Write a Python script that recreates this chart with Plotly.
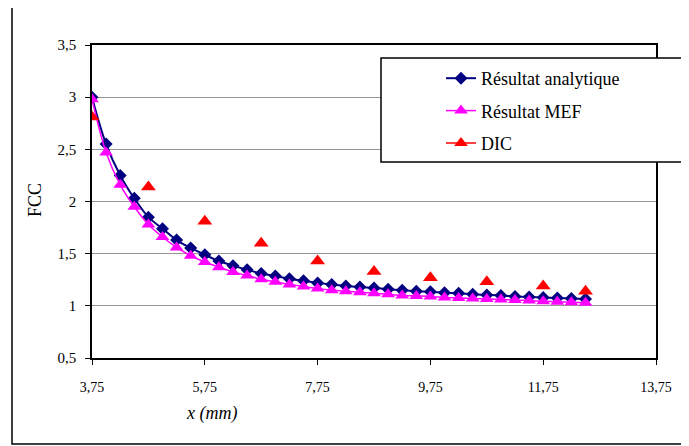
import plotly.graph_objects as go

# ---- data ----
x_model = [3.75, 4.00, 4.25, 4.50, 4.75, 5.00, 5.25, 5.50, 5.75, 6.00, 6.25, 6.50,
           6.75, 7.00, 7.25, 7.50, 7.75, 8.00, 8.25, 8.50, 8.75, 9.00, 9.25, 9.50,
           9.75, 10.00, 10.25, 10.50, 10.75, 11.00, 11.25, 11.50, 11.75, 12.00, 12.25, 12.50]
fcc_analytique = [3.00, 2.55, 2.25, 2.03, 1.85, 1.74, 1.63, 1.555, 1.49, 1.43, 1.385, 1.345,
                  1.31, 1.285, 1.26, 1.24, 1.22, 1.205, 1.19, 1.18, 1.17, 1.16, 1.15, 1.14,
                  1.135, 1.125, 1.12, 1.11, 1.105, 1.10, 1.09, 1.085, 1.08, 1.075, 1.07, 1.065]
fcc_mef = [2.98, 2.47, 2.16, 1.95, 1.78, 1.66, 1.56, 1.48, 1.42, 1.37, 1.325, 1.29,
           1.255, 1.23, 1.205, 1.185, 1.165, 1.15, 1.14, 1.13, 1.12, 1.11, 1.10, 1.095,
           1.09, 1.08, 1.075, 1.07, 1.065, 1.06, 1.055, 1.05, 1.045, 1.04, 1.035, 1.03]
x_dic = [3.75, 4.75, 5.75, 6.75, 7.75, 8.75, 9.75, 10.75, 11.75, 12.50]
fcc_dic = [2.81, 2.14, 1.81, 1.60, 1.43, 1.33, 1.27, 1.23, 1.19, 1.14]

x_tickvals = [3.75, 5.75, 7.75, 9.75, 11.75, 13.75]
x_ticktext = ["3,75", "5,75", "7,75", "9,75", "11,75", "13,75"]
y_tickvals = [0.5, 1.0, 1.5, 2.0, 2.5, 3.0, 3.5]
y_ticktext = ["0,5", "1", "1,5", "2", "2,5", "3", "3,5"]

names = ["Résultat analytique", "Résultat MEF", "DIC"]

# ---- layout helpers (screen pixel -> paper); page body has an 8px margin ----
OFF = 8
W, H = 689 - OFF, 446 - OFF
L, R, T, B = 92 - OFF, 656 - OFF, 45 - OFF, 358 - OFF
pw, ph = R - L, B - T
def px(x):
    return (x - OFF - L) / pw
def py(y):
    return (B - (y - OFF)) / ph

FONT = "Liberation Serif"

fig = go.Figure()
fig.add_trace(go.Scatter(
    x=x_model, y=fcc_analytique, name=names[0], mode="lines+markers",
    line=dict(color="#000080", width=2, shape="spline"),
    marker=dict(symbol="diamond", size=10, color="#000080"),
    legendgroup="a"))
fig.add_trace(go.Scatter(
    x=x_model, y=fcc_mef, name=names[1], mode="lines+markers",
    line=dict(color="#FF00FF", width=1.5, shape="spline"),
    marker=dict(symbol="triangle-up", size=12, color="#FF00FF"),
    legendgroup="b"))
fig.add_trace(go.Scatter(
    x=x_dic, y=fcc_dic, name=names[2], mode="markers",
    marker=dict(symbol="triangle-up", size=13, color="#FF0000"),
    showlegend=False, legendgroup="c"))
fig.add_trace(go.Scatter(
    x=[None], y=[None], name=names[2], mode="lines+markers",
    line=dict(color="#FF0000", width=1.5),
    marker=dict(symbol="triangle-up", size=12, color="#FF0000"),
    legendgroup="c"))

fig.update_layout(
    width=W, height=H,
    margin=dict(l=L, r=W - R, t=T, b=H - B),
    paper_bgcolor="white", plot_bgcolor="white",
    font=dict(family=FONT, size=14, color="black"),
    showlegend=True,
    legend=dict(x=px(441), y=py(60), xanchor="left", yanchor="top",
                bgcolor="rgba(0,0,0,0)", borderwidth=0,
                font=dict(family=FONT, size=18, color="black"),
                tracegroupgap=6),
    xaxis=dict(range=[3.75, 13.75], tickvals=x_tickvals, ticktext=x_ticktext,
               showgrid=False, zeroline=False, showline=True, linecolor="black",
               linewidth=1.5, mirror=True, ticks="outside", ticklen=5,
               tickcolor="black", tickwidth=1, ticklabelstandoff=10,
               tickfont=dict(family=FONT, size=14)),
    yaxis=dict(range=[0.5, 3.5], tickvals=y_tickvals, ticktext=y_ticktext,
               showgrid=True, gridcolor="#969696", gridwidth=1,
               zeroline=False, showline=True, linecolor="black",
               linewidth=1.5, mirror=True, ticks="outside", ticklen=5,
               tickcolor="black", tickwidth=1, ticklabelstandoff=6,
               tickfont=dict(family=FONT, size=15)),
    shapes=[
        dict(type="rect", xref="paper", yref="paper",
             x0=px(12), x1=px(684), y0=py(5), y1=py(444),
             line=dict(color="black", width=1.5), fillcolor="rgba(0,0,0,0)",
             layer="below"),
        dict(type="rect", xref="paper", yref="paper",
             x0=px(381), x1=px(683), y0=py(58), y1=py(162),
             line=dict(color="black", width=1.5), fillcolor="white",
             layer="above"),
    ],
    annotations=[
        dict(text="<i>x (mm)</i>", xref="paper", yref="paper",
             x=px(211), y=py(413), xanchor="center", yanchor="middle",
             showarrow=False, font=dict(family=FONT, size=18)),
        dict(text="FCC", xref="paper", yref="paper",
             x=px(35), y=py(200), xanchor="center", yanchor="middle",
             textangle=-90, showarrow=False, font=dict(family=FONT, size=18)),
    ],
)

fig.write_html("out.html")
